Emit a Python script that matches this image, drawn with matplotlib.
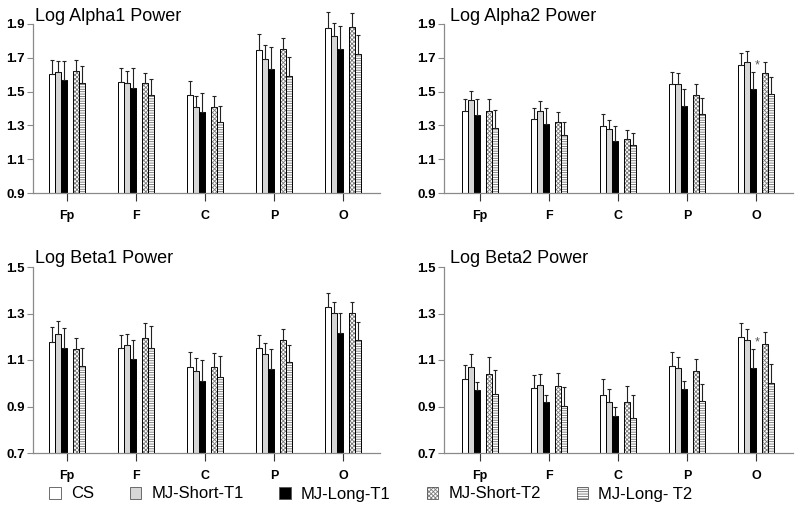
import matplotlib
matplotlib.use('Agg')
import matplotlib.pyplot as plt
from matplotlib.patches import Rectangle
import numpy as np

plt.rcParams['font.family'] = ['Liberation Sans', 'DejaVu Sans']
plt.rcParams['hatch.linewidth'] = 0.6

# ---------------- data ----------------
regions = ['Fp', 'F', 'C', 'P', 'O']
groups = ['CS', 'MJ-Short-T1', 'MJ-Long-T1', 'MJ-Short-T2', 'MJ-Long- T2']

alpha1_cs  = [1.604, 1.554, 1.479, 1.746, 1.874]
alpha1_st1 = [1.617, 1.548, 1.406, 1.691, 1.829]
alpha1_lt1 = [1.568, 1.519, 1.378, 1.632, 1.750]
alpha1_st2 = [1.623, 1.548, 1.406, 1.750, 1.882]
alpha1_lt2 = [1.548, 1.477, 1.321, 1.592, 1.722]
alpha1_err_cs  = [0.083, 0.083, 0.083, 0.095, 0.099]
alpha1_err_st1 = [0.066, 0.073, 0.069, 0.083, 0.079]
alpha1_err_lt1 = [0.115, 0.118, 0.115, 0.130, 0.140]
alpha1_err_st2 = [0.064, 0.065, 0.069, 0.069, 0.081]
alpha1_err_lt2 = [0.103, 0.095, 0.095, 0.111, 0.113]

alpha2_cs  = [1.385, 1.336, 1.298, 1.543, 1.657]
alpha2_st1 = [1.452, 1.387, 1.277, 1.543, 1.677]
alpha2_lt1 = [1.360, 1.310, 1.206, 1.415, 1.517]
alpha2_st2 = [1.385, 1.320, 1.218, 1.480, 1.608]
alpha2_lt2 = [1.286, 1.241, 1.182, 1.367, 1.484]
alpha2_err_cs  = [0.069, 0.069, 0.069, 0.071, 0.073]
alpha2_err_st1 = [0.053, 0.056, 0.055, 0.065, 0.061]
alpha2_err_lt1 = [0.094, 0.092, 0.092, 0.098, 0.099]
alpha2_err_st2 = [0.069, 0.057, 0.055, 0.063, 0.065]
alpha2_err_lt2 = [0.105, 0.079, 0.075, 0.093, 0.104]

beta1_cs  = [1.176, 1.151, 1.070, 1.150, 1.329]
beta1_st1 = [1.211, 1.163, 1.054, 1.124, 1.301]
beta1_lt1 = [1.151, 1.106, 1.010, 1.060, 1.215]
beta1_st2 = [1.146, 1.194, 1.069, 1.186, 1.301]
beta1_lt2 = [1.073, 1.150, 1.026, 1.093, 1.186]
beta1_err_cs  = [0.064, 0.056, 0.063, 0.058, 0.058]
beta1_err_st1 = [0.055, 0.048, 0.055, 0.051, 0.047]
beta1_err_lt1 = [0.086, 0.080, 0.091, 0.086, 0.089]
beta1_err_st2 = [0.048, 0.066, 0.061, 0.049, 0.047]
beta1_err_lt2 = [0.078, 0.096, 0.093, 0.070, 0.076]

beta2_cs  = [1.017, 0.978, 0.949, 1.074, 1.197]
beta2_st1 = [1.068, 0.994, 0.918, 1.064, 1.186]
beta2_lt1 = [0.972, 0.918, 0.859, 0.977, 1.064]
beta2_st2 = [1.038, 0.988, 0.921, 1.053, 1.169]
beta2_lt2 = [0.952, 0.901, 0.849, 0.922, 1.002]
beta2_err_cs  = [0.061, 0.057, 0.068, 0.059, 0.061]
beta2_err_st1 = [0.056, 0.047, 0.056, 0.049, 0.049]
beta2_err_lt1 = [0.035, 0.030, 0.040, 0.033, 0.085]
beta2_err_st2 = [0.074, 0.055, 0.069, 0.050, 0.053]
beta2_err_lt2 = [0.105, 0.084, 0.099, 0.073, 0.079]

alpha_ticks = [0.9, 1.1, 1.3, 1.5, 1.7, 1.9]
beta_ticks = [0.7, 0.9, 1.1, 1.3, 1.5]

# ---------------- styling ----------------
styles = [
    dict(face='white', hatch=None, hcolor=None),
    dict(face='#d6d6d6', hatch=None, hcolor=None),
    dict(face='black', hatch=None, hcolor=None),
    dict(face='white', hatch='xxxxxxxx', hcolor='#7a7a7a'),
    dict(face='white', hatch='-------', hcolor='#707070'),
]
slot = 0.0855
offsets = np.array([-2.5, -1.5, -0.5, 1.5, 2.5]) * slot
spine_c = '#8a8a8a'

fig = plt.figure(figsize=(8, 5.13), dpi=100)
W, H = 800.0, 513.0


def make_ax(l, r, t, b):
    return fig.add_axes([l / W, 1 - b / H, (r - l) / W, (b - t) / H])


def draw(ax, means, errs, ylo, yhi, yticks, title, title_dx, xl, xr, star=None):
    x = np.arange(len(regions))
    for i in range(5):
        m = np.array(means[i])
        e = np.array(errs[i])
        st = styles[i]
        if st['hatch']:
            ax.bar(x + offsets[i], m - ylo, bottom=ylo, width=slot, color=st['face'],
                   edgecolor=st['hcolor'], hatch=st['hatch'], linewidth=0, zorder=2)
            ax.bar(x + offsets[i], m - ylo, bottom=ylo, width=slot, fill=False,
                   edgecolor='black', linewidth=0.7, zorder=3)
        else:
            ax.bar(x + offsets[i], m - ylo, bottom=ylo, width=slot, color=st['face'],
                   edgecolor='black', linewidth=0.7, zorder=2)
        eb = ax.errorbar(x + offsets[i], m, yerr=[np.zeros_like(e), e], fmt='none',
                         ecolor='#222222', elinewidth=0.8, capsize=1.5, capthick=0.8, zorder=4)
        for art in eb.get_children():
            art.set_clip_on(False)
    ax.set_ylim(ylo, yhi)
    ax.set_xlim(xl, xr)
    for s in ['top', 'right']:
        ax.spines[s].set_visible(False)
    for s in ['left', 'bottom']:
        ax.spines[s].set_color(spine_c)
        ax.spines[s].set_linewidth(0.9)
    ax.set_yticks(yticks)
    ax.set_yticklabels([f'{t:.1f}' for t in yticks], fontweight='bold', fontsize=9.5)
    ax.set_xticks(x)
    ax.set_xticklabels(regions, fontweight='bold', fontsize=9)
    ax.tick_params(axis='y', direction='out', length=4, color=spine_c, pad=2)
    ax.tick_params(axis='x', direction='out', length=6, color='#333333', pad=6)
    ax.text(title_dx, 1.045, title, transform=ax.transAxes, fontsize=13,
            ha='left', va='center')
    if star is not None:
        ax.text(star[0], star[1], '*', fontsize=9, color='#555555',
                ha='center', va='center', zorder=5)


ax1 = make_ax(33, 380, 24, 193)
draw(ax1, [alpha1_cs, alpha1_st1, alpha1_lt1, alpha1_st2, alpha1_lt2],
     [alpha1_err_cs, alpha1_err_st1, alpha1_err_lt1, alpha1_err_st2, alpha1_err_lt2],
     0.9, 1.9, alpha_ticks, 'Log Alpha1 Power', 0.006, -0.493, 4.536)

ax2 = make_ax(444, 793, 24, 193)
draw(ax2, [alpha2_cs, alpha2_st1, alpha2_lt1, alpha2_st2, alpha2_lt2],
     [alpha2_err_cs, alpha2_err_st1, alpha2_err_lt1, alpha2_err_st2, alpha2_err_lt2],
     0.9, 1.9, alpha_ticks, 'Log Alpha2 Power', 0.017, -0.522, 4.536, star=(4.02, 1.655))

ax3 = make_ax(33, 380, 267, 453)
draw(ax3, [beta1_cs, beta1_st1, beta1_lt1, beta1_st2, beta1_lt2],
     [beta1_err_cs, beta1_err_st1, beta1_err_lt1, beta1_err_st2, beta1_err_lt2],
     0.7, 1.5, beta_ticks, 'Log Beta1 Power', 0.006, -0.493, 4.536)

ax4 = make_ax(444, 793, 267, 453)
draw(ax4, [beta2_cs, beta2_st1, beta2_lt1, beta2_st2, beta2_lt2],
     [beta2_err_cs, beta2_err_st1, beta2_err_lt1, beta2_err_st2, beta2_err_lt2],
     0.7, 1.5, beta_ticks, 'Log Beta2 Power', 0.017, -0.522, 4.536, star=(4.02, 1.177))

# ---------------- legend ----------------
handles = []
for st in styles:
    if st['hatch']:
        h = (Rectangle((0, 0), 1, 1, facecolor=st['face'], edgecolor=st['hcolor'],
                       hatch=st['hatch'], linewidth=0),
             Rectangle((0, 0), 1, 1, fill=False, edgecolor='#555555', linewidth=0.6))
    else:
        h = Rectangle((0, 0), 1, 1, facecolor=st['face'], edgecolor='#555555', linewidth=0.6)
    handles.append(h)

fig.legend(handles, groups, loc='center left', bbox_to_anchor=(49 / W, 1 - 494 / H),
           ncol=5, frameon=False, fontsize=12, handlelength=0.7, handleheight=0.75,
           handletextpad=0.6, columnspacing=2.15, borderpad=0, borderaxespad=0)

fig.savefig('out.png', dpi=100)
